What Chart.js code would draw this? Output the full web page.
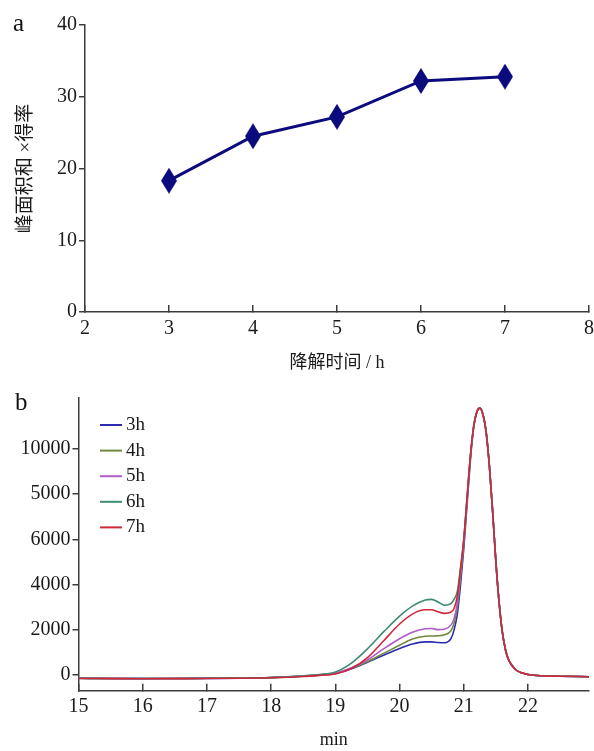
<!DOCTYPE html>
<html>
<head>
<meta charset="utf-8">
<script src="https://cdn.jsdelivr.net/npm/chart.js@4"></script>
<style>
html, body { margin: 0; padding: 0; background: #fff; overflow: hidden; width: 594px; height: 751px; }
#wrapA { position: absolute; left: 0; top: 0; width: 606px; height: 378px; }
#wrapB { position: absolute; left: 0; top: 380px; width: 594px; height: 371px; }
.tag { position: absolute; font-family: "Liberation Serif", serif; font-size: 25px; line-height: 25px; color: #111; }
</style>
</head>
<body>
<div id="wrapA"><canvas id="chartA"></canvas></div>
<div id="wrapB"><canvas id="chartB"></canvas></div>
<div class="tag" style="left:13px; top:10px;">a</div>
<div class="tag" style="left:15px; top:389px;">b</div>
<script>
// panel a: peak area x yield vs degradation time
const hours = [3, 4, 5, 6, 7]
const peakAreaYield = [18.3, 24.5, 27.2, 32.2, 32.8]

// panel b: chromatograms (min)
const seriesNames = ['3h', '4h', '5h', '6h', '7h']
const seriesColors = ['#2b2bb0', '#6f8a3c', '#b05cc8', '#3f8a74', '#d02838']
const timeMin = [15, 15.5, 16, 16.5, 17, 17.5, 18, 18.5, 18.75,
    19, 19.25, 19.5, 19.75, 20, 20.2, 20.4, 20.5, 20.6,
    20.7, 20.8, 20.85, 20.9, 20.95, 21.0, 21.05, 21.1,
    21.15, 21.2, 21.25, 21.3, 21.35, 21.4, 21.45, 21.5, 21.55, 21.6, 21.65, 21.7, 21.8, 21.9, 22.0, 22.2, 22.5, 22.95]
const sig3h = [-150, -160, -165, -160, -155, -145, -120, -60, -10,
    60, 270, 560, 870, 1170, 1370, 1460, 1460, 1430,
    1420, 1600, 2000, 2700, 4000, 5600, 7500, 9400,
    10900, 11600, 11800, 11500, 10700, 9200, 7200, 5000, 3200, 1900, 1100, 650, 250, 90, 20, -40, -60, -80]
const sig4h = [-150, -160, -160, -160, -150, -140, -120, -55, -5,
    70, 290, 580, 950, 1310, 1590, 1710, 1720, 1730,
    1780, 1950, 2300, 3000, 4300, 5800, 7700, 9500,
    10900, 11600, 11800, 11500, 10700, 9200, 7200, 5000, 3200, 1900, 1100, 650, 250, 90, 20, -40, -60, -80]
const sig5h = [-145, -155, -160, -155, -150, -140, -115, -50, 0,
    80, 320, 660, 1150, 1600, 1890, 2040, 2050, 2000,
    2020, 2200, 2500, 3200, 4500, 5900, 7700, 9550,
    10900, 11600, 11800, 11500, 10700, 9200, 7200, 5000, 3200, 1900, 1100, 650, 250, 90, 20, -40, -60, -80]
const sig6h = [-150, -160, -160, -160, -150, -140, -115, -45, 20,
    130, 520, 1150, 1900, 2600, 3040, 3310, 3340, 3220,
    3080, 3150, 3350, 3700, 4750, 6000, 7800, 9600,
    10900, 11600, 11800, 11500, 10700, 9200, 7200, 5000, 3200, 1900, 1100, 650, 250, 90, 20, -40, -60, -80]
const sig7h = [-160, -165, -170, -165, -160, -150, -130, -70, -20,
    40, 280, 760, 1500, 2250, 2690, 2880, 2880, 2790,
    2720, 2780, 2950, 3500, 4700, 6000, 7800, 9600,
    10900, 11600, 11800, 11500, 10700, 9200, 7200, 5000, 3200, 1900, 1100, 650, 250, 90, 20, -40, -60, -80]
const signals = [sig3h, sig4h, sig5h, sig6h, sig7h]

const xTicksB = [15, 16, 17, 18, 19, 20, 21, 22]
const yTickValues = [0, 2000, 4000, 6000, 8000, 10000]
const yTickLabels = ['0', '2000', '4000', '6000', '5000', '10000'] // as printed on the original axis

const SERIF = '"Liberation Serif", "Times New Roman", serif'
const CJK = '"Liberation Serif", "Noto Sans CJK SC", serif'
const AXIS = '#3c3c3c'
const NAVY = '#0b0b7d'

// tall diamond marker
function diamond(w, h, color) {
    const c = document.createElement('canvas')
    c.width = w
    c.height = h
    const g = c.getContext('2d')
    g.fillStyle = color
    g.beginPath()
    g.moveTo(w / 2, 0)
    g.lineTo(w, h / 2)
    g.lineTo(w / 2, h)
    g.lineTo(0, h / 2)
    g.closePath()
    g.fill()
    return c
}

const insideLegend = {
    id: 'insideLegend',
    afterDraw(chart, args, opts) {
        if (!opts.show) return
        const {ctx, chartArea} = chart
        ctx.save()
        ctx.font = '19px ' + SERIF
        ctx.textBaseline = 'middle'
        chart.data.datasets.forEach((ds, i) => {
            const x = chartArea.left + opts.left
            const y = chartArea.top + opts.top + i * opts.rowGap
            ctx.strokeStyle = ds.borderColor
            ctx.lineWidth = 2
            ctx.beginPath()
            ctx.moveTo(x, y)
            ctx.lineTo(x + opts.lineLen, y)
            ctx.stroke()
            ctx.fillStyle = '#1a1a1a'
            ctx.fillText(ds.label, x + opts.lineLen + 4, y)
        })
        ctx.restore()
    }
}

function axisStyle() {
    return {
        border: {color: AXIS, width: 1.5},
        ticks: {color: '#1a1a1a', font: {family: SERIF, size: 20}},
    }
}

new Chart(document.getElementById('chartA'), {
    type: 'line',
    data: {
        datasets: [{
            label: 'a',
            data: hours.map((h, i) => ({x: h, y: peakAreaYield[i]})),
            borderColor: NAVY,
            borderWidth: 3,
            pointStyle: diamond(16, 26, NAVY),
            pointRadius: 10,
            tension: 0
        }]
    },
    options: {
        responsive: true,
        maintainAspectRatio: false,
        animation: false,
        layout: {padding: {top: 25, right: 16, bottom: 4, left: 0}},
        plugins: {legend: {display: false}, tooltip: {enabled: false}},
        scales: {
            x: {
                type: 'linear', min: 2, max: 8,
                ...axisStyle(),
                ticks: {...axisStyle().ticks, stepSize: 1, padding: 12},
                grid: {drawOnChartArea: false, tickLength: -7, color: AXIS, lineWidth: 1.5},
                title: {display: true, text: '降解时间 / h', color: '#1a1a1a', font: {family: CJK, size: 18}, padding: {top: 0, bottom: 0}},
                afterFit(s) { s.height = 62 }
            },
            y: {
                min: 0, max: 40,
                ...axisStyle(),
                ticks: {...axisStyle().ticks, stepSize: 10, padding: 2},
                grid: {drawOnChartArea: false, tickLength: 6, color: AXIS, lineWidth: 1.5},
                title: {display: true, text: '峰面积和 ×得率', color: '#1a1a1a', font: {family: CJK, size: 19}, padding: {top: 15, bottom: 0}},
                afterFit(s) { s.width = 85 }
            }
        }
    }
})

new Chart(document.getElementById('chartB'), {
    type: 'line',
    data: {
        datasets: seriesNames.map((name, i) => ({
            label: name,
            data: timeMin.map((t, j) => ({x: t, y: signals[i][j]})),
            borderColor: seriesColors[i],
            borderWidth: 1.6,
            pointRadius: 0,
            cubicInterpolationMode: 'monotone',
            order: seriesNames.length - 1 - i
        }))
    },
    options: {
        responsive: true,
        maintainAspectRatio: false,
        animation: false,
        layout: {padding: {top: 18, right: 5, bottom: 0, left: 0}},
        plugins: {
            legend: {display: false},
            tooltip: {enabled: false},
            insideLegend: {show: true, left: 21.5, top: 27, rowGap: 25.6, lineLen: 22}
        },
        scales: {
            x: {
                type: 'linear', min: 15, max: 22.95,
                afterBuildTicks(s) { s.ticks = xTicksB.map(v => ({value: v})) },
                ...axisStyle(),
                ticks: {...axisStyle().ticks, padding: 11},
                grid: {drawOnChartArea: false, tickLength: -7, color: AXIS, lineWidth: 1.5},
                title: {display: true, text: 'min', color: '#1a1a1a', font: {family: SERIF, size: 18}, padding: {top: 0, bottom: 0}},
                afterFit(s) { s.height = 60.3 }
            },
            y: {
                min: -700, max: 12250,
                afterBuildTicks(s) { s.ticks = yTickValues.map(v => ({value: v})) },
                ...axisStyle(),
                ticks: {...axisStyle().ticks, padding: 2, callback: (v, i) => yTickLabels[i]},
                grid: {drawOnChartArea: false, tickLength: 6, color: AXIS, lineWidth: 1.5},
                afterFit(s) { s.width = 78.5 }
            }
        }
    },
    plugins: [insideLegend]
})
</script>
</body>
</html>
